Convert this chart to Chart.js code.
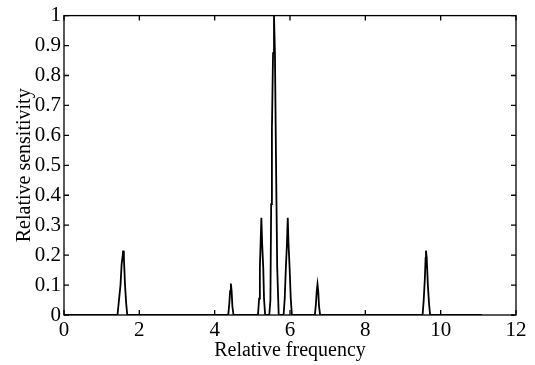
<!DOCTYPE html>
<html>
<head>
<meta charset="utf-8">
<script src="https://cdn.jsdelivr.net/npm/chart.js@4/dist/chart.umd.min.js"></script>
<style>
    html, body { margin: 0; padding: 0; background: #ffffff; }
    #wrap { width: 535px; height: 365px; }
</style>
</head>
<body>
<div id="wrap"><canvas id="sensChart" width="535" height="365"></canvas></div>
<script>
//relative frequency (x) for each sample
var freqs = [
    0,
    1.42, 1.46, 1.50, 1.53, 1.56, 1.57, 1.59, 1.62, 1.65, 1.68,
    4.36, 4.39, 4.41, 4.43, 4.45, 4.47, 4.50,
    5.15, 5.18, 5.20, 5.22, 5.24, 5.26, 5.29, 5.31, 5.34,
    5.45, 5.48, 5.50, 5.52, 5.55, 5.575, 5.60, 5.63, 5.66, 5.70,
    5.83, 5.86, 5.89, 5.92, 5.94, 5.96, 5.99, 6.02, 6.05,
    6.66, 6.69, 6.71, 6.73, 6.75, 6.77, 6.80,
    9.52, 9.55, 9.58, 9.60, 9.61, 9.63, 9.66, 9.69, 9.72,
    11.1
];
//relative sensitivity (y) for each sample
var sens = [
    0,
    0, 0.05, 0.10, 0.17, 0.20, 0.215, 0.19, 0.10, 0.04, 0,
    0, 0.04, 0.08, 0.105, 0.08, 0.03, 0,
    0, 0.055, 0.157, 0.24, 0.325, 0.24, 0.157, 0.055, 0,
    0, 0.05, 0.37, 0.62, 0.875, 1.0, 0.875, 0.5, 0.16, 0,
    0, 0.055, 0.157, 0.24, 0.325, 0.24, 0.157, 0.055, 0,
    0, 0.04, 0.08, 0.103, 0.08, 0.03, 0,
    0, 0.05, 0.12, 0.19, 0.215, 0.19, 0.10, 0.04, 0,
    0
];
var xTicks = [0, 2, 4, 6, 8, 10, 12];
var yTicks = [0, 0.1, 0.2, 0.3, 0.4, 0.5, 0.6, 0.7, 0.8, 0.9, 1];

var points = [];
for (var i = 0; i < freqs.length; i++) {
    points.push({ x: freqs[i], y: sens[i] });
}

var serif = "'Liberation Serif', 'DejaVu Serif', serif";

//box and inward ticks like a matlab figure
var boxPlugin = {
    id: "boxTicks",
    afterDraw: function (chart) {
        var ctx = chart.ctx;
        var a = chart.chartArea;
        var xs = chart.scales.x;
        var ys = chart.scales.y;
        var len = 5;
        ctx.save();
        ctx.strokeStyle = "#000000";
        ctx.lineWidth = 1.3;
        ctx.strokeRect(a.left, a.top, a.right - a.left, a.bottom - a.top);
        ctx.beginPath();
        xTicks.forEach(function (v) {
            var px = xs.getPixelForValue(v);
            ctx.moveTo(px, a.bottom);
            ctx.lineTo(px, a.bottom - len);
            ctx.moveTo(px, a.top);
            ctx.lineTo(px, a.top + len);
        });
        yTicks.forEach(function (v) {
            var py = ys.getPixelForValue(v);
            ctx.moveTo(a.left, py);
            ctx.lineTo(a.left + len, py);
            ctx.moveTo(a.right, py);
            ctx.lineTo(a.right - len, py);
        });
        ctx.stroke();
        ctx.restore();
    }
};

var ctx = document.getElementById("sensChart");
var sensChart = new Chart(ctx, {
    type: "scatter",
    data: {
        datasets: [
            {
                data: points,
                showLine: true,
                borderColor: "#000000",
                borderWidth: 1.8,
                pointRadius: 0,
                tension: 0,
            },
        ],
    },
    options: {
        responsive: false,
        animation: false,
        layout: { padding: { top: 11, right: 19, left: 0, bottom: 0 } },
        plugins: {
            legend: { display: false },
            tooltip: { enabled: false },
        },
        scales: {
            x: {
                type: "linear",
                min: 0,
                max: 12,
                afterBuildTicks: function (scale) {
                    scale.ticks = xTicks.map(function (v) { return { value: v }; });
                },
                afterFit: function (scale) { scale.height = 50; },
                grid: { display: false, drawTicks: false },
                border: { display: false },
                ticks: {
                    color: "#000000",
                    padding: 3,
                    maxRotation: 0,
                    font: { family: serif, size: 21 },
                    callback: function (v) { return String(v); },
                },
                title: {
                    display: true,
                    text: "Relative frequency",
                    color: "#000000",
                    font: { family: serif, size: 20, lineHeight: 1.2 },
                    padding: { top: 0, bottom: 2 },
                },
            },
            y: {
                type: "linear",
                min: 0,
                max: 1,
                afterBuildTicks: function (scale) {
                    scale.ticks = yTicks.map(function (v) { return { value: v }; });
                },
                afterFit: function (scale) { scale.width = 64; },
                grid: { display: false, drawTicks: false },
                border: { display: false },
                ticks: {
                    color: "#000000",
                    padding: 3,
                    font: { family: serif, size: 21 },
                    callback: function (v) { return String(v); },
                },
                title: {
                    display: true,
                    text: "Relative sensitivity",
                    color: "#000000",
                    font: { family: serif, size: 20, lineHeight: 1.2 },
                    padding: { top: 13, bottom: 0 },
                },
            },
        },
    },
    plugins: [boxPlugin],
});
</script>
</body>
</html>
